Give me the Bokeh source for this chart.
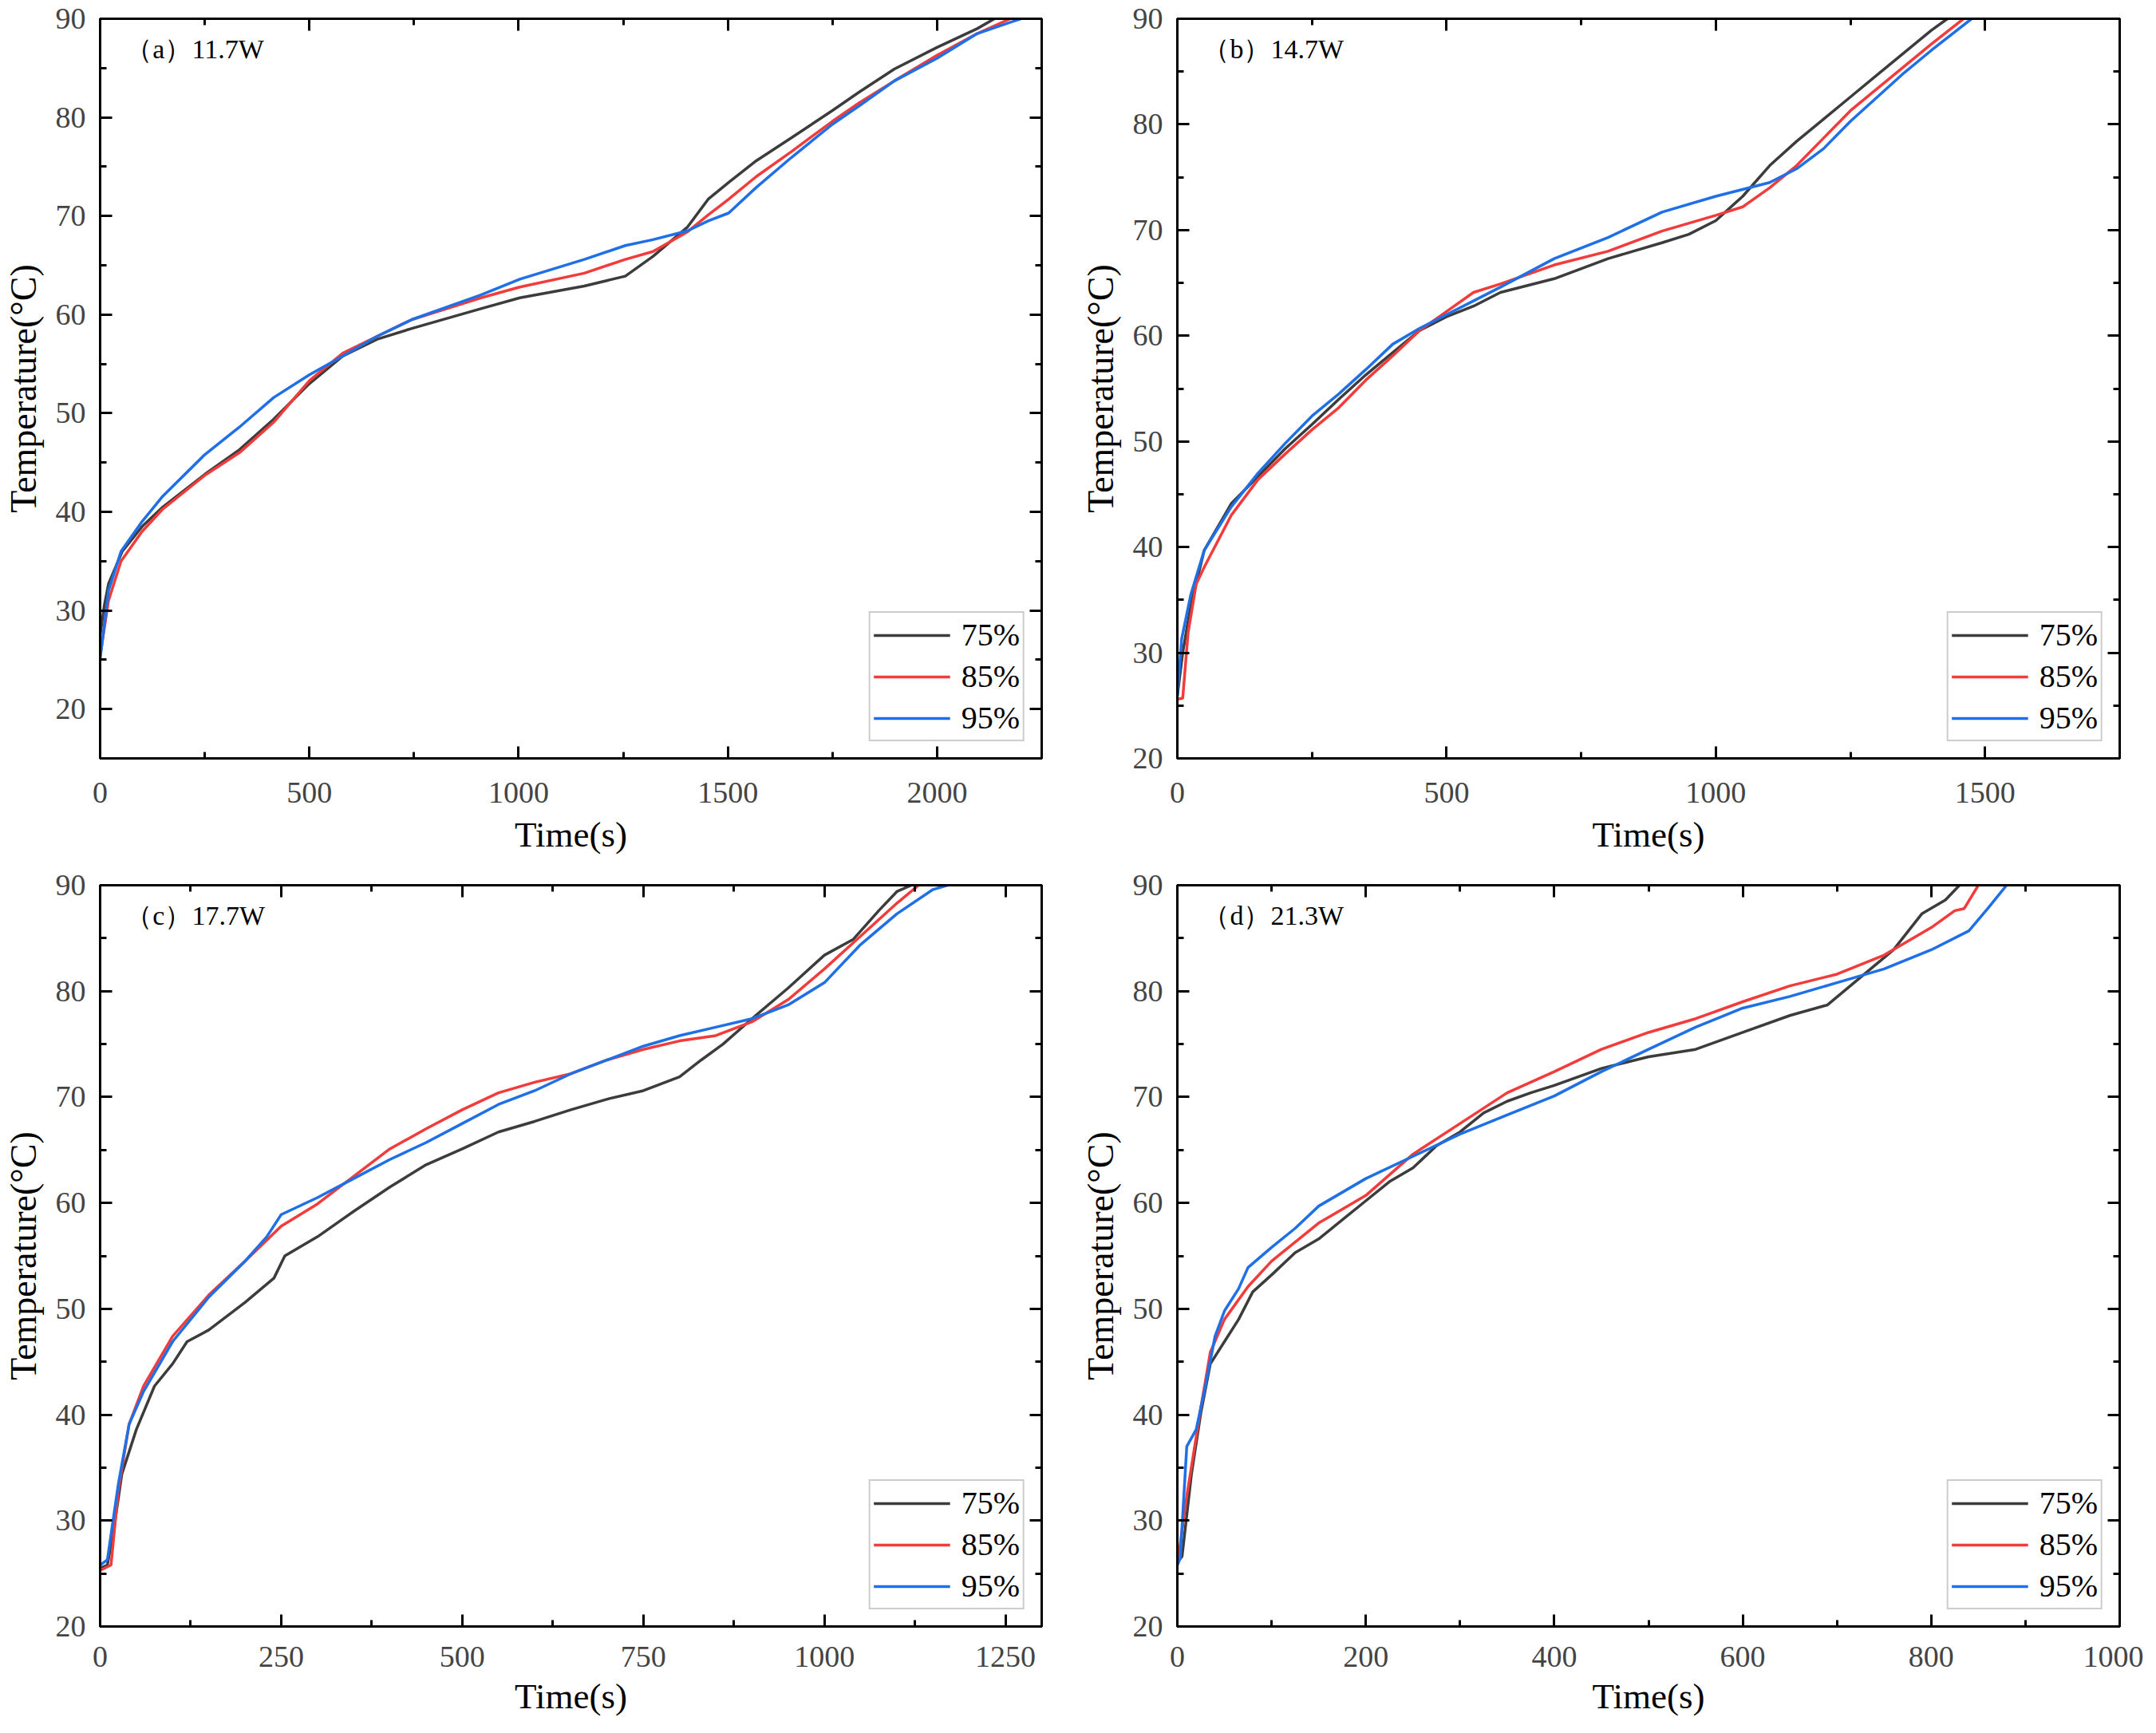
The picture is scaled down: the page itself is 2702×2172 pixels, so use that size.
from bokeh.plotting import figure
from bokeh.models import (Range1d, SingleIntervalTicker, LinearAxis, Legend, LegendItem,
                          Label, CustomJSTickFormatter)
from bokeh.layouts import gridplot
from bokeh.embed import file_html
from bokeh.resources import INLINE

SERIES_LABELS = ["75%", "85%", "95%"]
COLORS = ["#3c3c3c", "#f23c3c", "#1f6fe6"]
PANEL_TAGS = ["（a）11.7W", "（b）14.7W", "（c）17.7W", "（d）21.3W"]
X_MAX = [2250, 1750, 1300, 1000]
X_MAJOR = [500, 500, 250, 200]
Y_MIN = [15, 20, 20, 20]
Y_MAX = 90
X_LABEL = "Time(s)"
Y_LABEL = "Temperature(°C)"

# ---- panel (a) 11.7W ----
A_T75 = [0, 10, 20, 53, 100, 150, 250, 333, 415, 500, 580, 662, 745, 910, 1003, 1157, 1255, 1321, 1404, 1453, 1502, 1568, 1651, 1750, 1815, 1898, 2000, 2096, 2137]
A_Y75 = [27.5, 30.5, 32.7, 36.0, 38.5, 40.5, 43.8, 46.3, 49.4, 53.0, 55.8, 57.5, 58.6, 60.6, 61.7, 62.9, 63.9, 65.9, 68.9, 71.7, 73.4, 75.6, 77.9, 80.7, 82.6, 84.9, 87.1, 89.0, 90.0]
A_T85 = [0, 20, 50, 100, 150, 250, 333, 415, 500, 580, 662, 745, 910, 1003, 1157, 1255, 1321, 1404, 1453, 1502, 1568, 1651, 1750, 1815, 1898, 2000, 2096, 2175]
A_Y85 = [25.4, 31.0, 35.0, 38.0, 40.3, 43.7, 46.0, 49.1, 53.3, 56.1, 57.8, 59.5, 61.7, 62.8, 64.2, 65.6, 66.4, 68.4, 70.1, 71.7, 74.0, 76.5, 79.6, 81.5, 83.7, 86.3, 88.5, 90.0]
A_T95 = [0, 20, 50, 100, 150, 250, 333, 415, 500, 580, 662, 745, 910, 1003, 1157, 1255, 1321, 1404, 1453, 1502, 1568, 1651, 1750, 1815, 1898, 2000, 2096, 2200]
A_Y95 = [25.1, 32.0, 36.0, 39.0, 41.6, 45.8, 48.6, 51.6, 53.9, 55.8, 57.8, 59.5, 62.0, 63.6, 65.6, 67.0, 67.6, 68.5, 69.5, 70.3, 72.9, 75.9, 79.3, 81.2, 83.7, 86.0, 88.5, 90.0]

# ---- panel (b) 14.7W ----
B_T75 = [0, 10, 25, 50, 100, 150, 200, 250, 300, 350, 400, 450, 500, 550, 600, 700, 800, 900, 950, 1000, 1050, 1100, 1150, 1200, 1250, 1300, 1350, 1400, 1430]
B_Y75 = [25.9, 30.0, 34.5, 39.7, 44.1, 46.7, 49.3, 51.6, 54.0, 56.3, 58.4, 60.5, 61.8, 62.8, 64.1, 65.4, 67.3, 68.8, 69.6, 70.9, 73.2, 76.1, 78.4, 80.5, 82.6, 84.7, 86.8, 88.9, 90.0]
B_T85 = [0, 10, 20, 35, 50, 100, 150, 200, 250, 300, 350, 400, 450, 500, 550, 600, 700, 800, 900, 1000, 1050, 1100, 1150, 1200, 1250, 1300, 1350, 1400, 1460]
B_Y85 = [25.6, 25.7, 31.9, 36.5, 38.1, 43.0, 46.4, 48.8, 51.1, 53.2, 55.8, 58.1, 60.5, 62.3, 64.1, 64.9, 66.7, 68.0, 69.9, 71.4, 72.2, 74.0, 76.1, 78.7, 81.3, 83.4, 85.5, 87.6, 90.0]
B_T95 = [0, 8, 25, 50, 100, 150, 200, 250, 300, 350, 400, 450, 500, 550, 600, 700, 800, 900, 1000, 1100, 1150, 1200, 1250, 1300, 1350, 1400, 1475]
B_Y95 = [25.9, 31.3, 35.5, 39.7, 43.8, 47.0, 49.8, 52.4, 54.5, 56.8, 59.2, 60.7, 62.0, 63.3, 64.6, 67.3, 69.3, 71.7, 73.2, 74.5, 75.8, 77.7, 80.3, 82.6, 84.9, 87.0, 90.0]

# ---- panel (c) 17.7W ----
C_T75 = [0, 10, 20, 30, 50, 75, 100, 120, 150, 200, 240, 255, 300, 350, 400, 450, 500, 550, 600, 650, 700, 750, 800, 830, 860, 900, 950, 1000, 1040, 1075, 1100, 1120]
C_Y75 = [25.5, 25.8, 29.7, 34.4, 38.6, 42.7, 44.8, 46.9, 48.0, 50.6, 52.9, 55.0, 56.8, 59.2, 61.5, 63.6, 65.1, 66.7, 67.7, 68.8, 69.8, 70.6, 71.9, 73.5, 75.0, 77.4, 80.3, 83.4, 84.9, 87.6, 89.4, 90.0]
C_T85 = [0, 15, 25, 40, 60, 100, 150, 200, 250, 300, 350, 400, 450, 500, 550, 600, 650, 700, 750, 800, 850, 900, 950, 1000, 1050, 1100, 1130]
C_Y85 = [25.3, 25.8, 32.8, 39.1, 42.7, 47.4, 51.3, 54.5, 57.8, 59.9, 62.5, 65.1, 67.0, 68.8, 70.4, 71.4, 72.2, 73.5, 74.5, 75.3, 75.8, 77.1, 79.2, 82.1, 85.2, 88.3, 90.0]
C_T95 = [0, 10, 25, 40, 60, 100, 150, 200, 230, 250, 300, 350, 400, 450, 500, 550, 600, 650, 700, 750, 800, 850, 900, 950, 1000, 1050, 1100, 1150, 1170]
C_Y95 = [25.8, 26.3, 33.4, 39.1, 42.2, 46.9, 51.1, 54.5, 56.8, 58.9, 60.5, 62.3, 64.1, 65.7, 67.5, 69.3, 70.6, 72.2, 73.5, 74.8, 75.8, 76.6, 77.4, 78.7, 80.8, 84.4, 87.3, 89.6, 90.0]

# ---- panel (d) 21.3W ----
D_T75 = [0, 5, 15, 25, 35, 50, 65, 80, 100, 125, 150, 175, 200, 225, 250, 275, 300, 325, 350, 375, 400, 450, 500, 550, 600, 650, 690, 725, 760, 790, 815, 830]
D_Y75 = [26.1, 26.6, 34.4, 40.2, 44.8, 46.9, 49.0, 51.6, 53.2, 55.3, 56.6, 58.4, 60.2, 62.0, 63.3, 65.4, 66.7, 68.5, 69.6, 70.4, 71.1, 72.7, 73.8, 74.5, 76.1, 77.7, 78.7, 81.3, 83.9, 87.3, 88.6, 90.0]
D_T85 = [0, 10, 25, 35, 50, 75, 100, 150, 200, 250, 300, 350, 400, 450, 500, 550, 600, 650, 700, 750, 800, 825, 835, 850]
D_Y85 = [25.8, 32.3, 40.7, 45.9, 49.0, 52.1, 54.5, 58.1, 60.7, 64.6, 67.5, 70.4, 72.4, 74.5, 76.1, 77.4, 79.0, 80.5, 81.6, 83.4, 86.0, 87.6, 87.8, 90.0]
D_T95 = [0, 3, 10, 20, 30, 40, 50, 65, 75, 100, 125, 150, 175, 200, 250, 300, 350, 400, 450, 500, 550, 600, 650, 700, 750, 800, 840, 860, 880]
D_Y95 = [25.8, 26.4, 37.0, 38.6, 42.8, 47.4, 49.8, 51.9, 53.9, 55.8, 57.6, 59.7, 61.0, 62.3, 64.4, 66.5, 68.3, 70.1, 72.4, 74.5, 76.6, 78.4, 79.5, 80.8, 82.1, 83.9, 85.7, 87.8, 90.0]

PANELS = [
    [(A_T75, A_Y75), (A_T85, A_Y85), (A_T95, A_Y95)],
    [(B_T75, B_Y75), (B_T85, B_Y85), (B_T95, B_Y95)],
    [(C_T75, C_Y75), (C_T85, C_Y85), (C_T95, C_Y95)],
    [(D_T75, D_Y75), (D_T85, D_Y85), (D_T95, D_Y95)],
]

FONT = "Liberation Serif"
FRAME_W = 1181
FRAME_H = [927, 927, 929, 929]
# borders per panel: (left, right, top, bottom)
BORDERS = [(124, 38, 23, 125), (132, 30, 23, 125), (124, 38, 34, 118), (132, 30, 34, 118)]
X_STANDOFFS = [(30, 12), (30, 12), (25, 9), (25, 9)]


def style_axis(ax, labels=True):
    ax.axis_line_color = "black"
    ax.axis_line_width = 3
    ax.major_tick_in = 15
    ax.major_tick_out = 0
    ax.minor_tick_in = 8
    ax.minor_tick_out = 0
    ax.major_tick_line_width = 3
    ax.minor_tick_line_width = 3
    ax.major_tick_line_color = "black"
    ax.minor_tick_line_color = "black"
    if labels:
        ax.major_label_text_font = FONT
        ax.major_label_text_font_size = "38px"
        ax.major_label_text_color = "#444444"
        ax.axis_label_text_font = FONT
        ax.axis_label_text_font_style = "normal"
        ax.axis_label_text_color = "black"
    else:
        ax.formatter = CustomJSTickFormatter(code="return ''")
        ax.major_label_text_font_size = "1px"
        ax.major_label_standoff = 0


def make_panel(i):
    xmax, ymin = X_MAX[i], Y_MIN[i]
    bl, br, bt, bb = BORDERS[i]
    p = figure(width=bl + FRAME_W + br, height=bt + FRAME_H[i] + bb,
               x_range=Range1d(0, xmax), y_range=Range1d(ymin, Y_MAX),
               output_backend="svg", toolbar_location=None,
               min_border_left=bl, min_border_right=br,
               min_border_top=bt, min_border_bottom=bb)
    p.grid.visible = False
    p.outline_line_color = "black"
    p.outline_line_width = 3
    p.background_fill_color = "white"
    p.border_fill_color = "white"

    p.xaxis.ticker = SingleIntervalTicker(interval=X_MAJOR[i], num_minor_ticks=2)
    p.yaxis.ticker = SingleIntervalTicker(interval=10, num_minor_ticks=2)
    p.xaxis.axis_label = X_LABEL
    p.yaxis.axis_label = Y_LABEL
    for ax in p.xaxis + p.yaxis:
        style_axis(ax, True)
    p.xaxis.axis_label_text_font_size = "45px"
    p.yaxis.axis_label_text_font_size = "46px"
    p.xaxis.major_label_standoff = X_STANDOFFS[i][0]
    p.xaxis.axis_label_standoff = X_STANDOFFS[i][1]
    p.yaxis.major_label_standoff = 18
    p.yaxis.axis_label_standoff = 12

    top = LinearAxis(ticker=SingleIntervalTicker(interval=X_MAJOR[i], num_minor_ticks=2))
    right = LinearAxis(ticker=SingleIntervalTicker(interval=10, num_minor_ticks=2))
    style_axis(top, False)
    style_axis(right, False)
    p.add_layout(top, "above")
    p.add_layout(right, "right")

    items = []
    for (t, y), lab, col in zip(PANELS[i], SERIES_LABELS, COLORS):
        r = p.line(t, y, line_color=col, line_width=3.5)
        items.append(LegendItem(label=lab, renderers=[r]))

    leg = Legend(items=items, location="bottom_right",
                 label_text_font=FONT, label_text_font_size="40px",
                 label_text_color="black")
    leg.margin = 21
    leg.padding = 4
    leg.spacing = 5
    leg.glyph_width = 96
    leg.glyph_height = 46
    leg.label_height = 46
    leg.label_standoff = 14
    leg.border_line_color = "#999999"
    leg.border_line_width = 2
    leg.background_fill_alpha = 1
    p.add_layout(leg)

    tag = Label(x=xmax * 0.027, y=Y_MAX - (Y_MAX - ymin) * 0.041,
                text=PANEL_TAGS[i], text_font=FONT, text_font_size="34px",
                text_color="black", text_baseline="middle", text_align="left")
    p.add_layout(tag)
    return p


figs = [make_panel(i) for i in range(4)]
grid = gridplot([[figs[0], figs[1]], [figs[2], figs[3]]], toolbar_location=None)

open("out.html", "w").write(file_html(grid, INLINE))
